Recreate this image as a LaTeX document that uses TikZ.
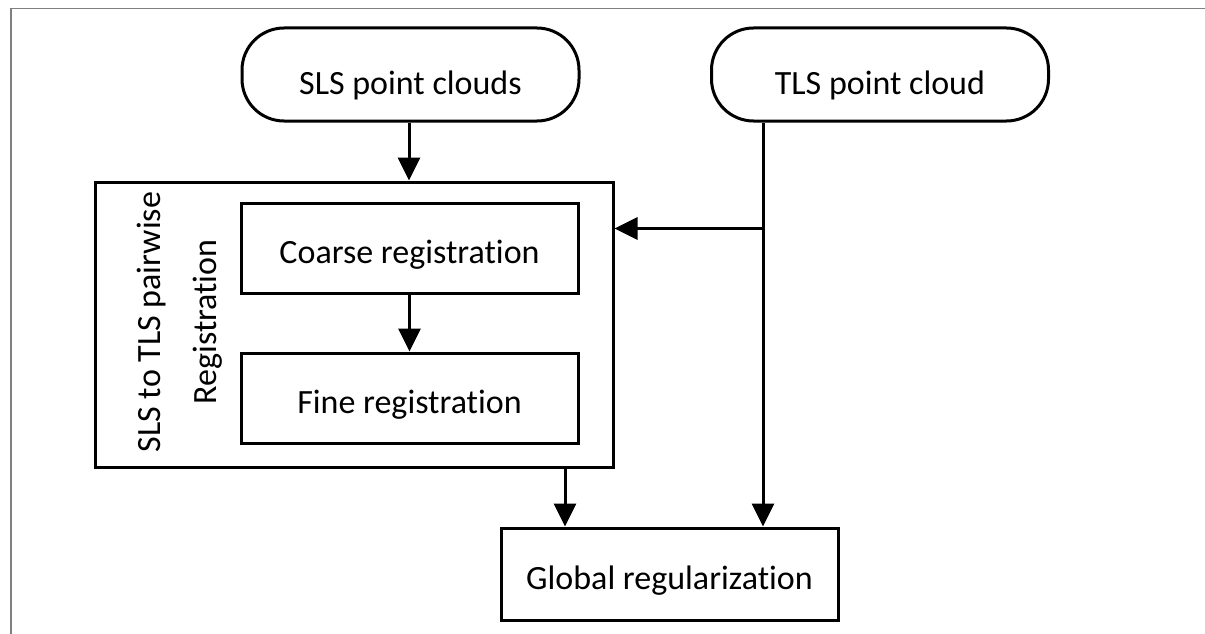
\documentclass[tikz,border=0pt]{standalone}
\usepackage{fontspec}
\setmainfont[Ligatures=NoCommon]{Carlito}
\usetikzlibrary{arrows.meta}
\begin{document}
\begin{tikzpicture}[x=1pt,y=-1pt,
  every node/.style={font=\fontsize{34}{56}\selectfont, inner sep=0pt},
  pill/.style={draw, line width=3pt, rounded corners=42pt, minimum width=337pt, minimum height=93pt, text height=39pt, text depth=0pt},
  box/.style={draw, line width=3pt, minimum width=337pt, minimum height=90pt, text height=30pt, text depth=0pt},
  arr/.style={line width=3pt, -{Triangle[length=23pt,width=22pt]}},
  frame/.style={draw=black!50, line width=1.5pt}]
\useasboundingbox (0,0) rectangle (1205,634);
% outer cropped frame
\coordinate (ftl) at (11,8.5);
\coordinate (ftr) at (1205,8.5);
\coordinate (fbl) at (11,634);
\draw[frame] (fbl) -- (ftl) -- (ftr);
% nodes
\node[pill] (sls) at (410.5,74.5) {SLS point clouds};
\node[pill] (tls) at (880,74.5) {TLS point cloud};
\node[draw, line width=3pt, minimum width=518pt, minimum height=285pt] (outer) at (354,324.5) {};
\node[box] (coarse) at (409.5,248) {Coarse registration};
\node[box] (fine) at (409.5,398) {Fine registration};
\node[box, minimum height=92pt] (global) at (669.5,574) {Global regularization};
\node[rotate=90, align=center] (lbl) at (180,322) {SLS to TLS pairwise\\Registration};
% connectors
\coordinate (slsout) at ([xshift=-1.5pt]sls.south);
\draw[arr] (slsout) -- (slsout |- outer.north);
\draw[arr] (coarse.south) -- (fine.north);
\coordinate (tlsout) at ([xshift=-117pt]tls.south);
\draw[arr] (tlsout) -- (tlsout |- global.north);
\coordinate (br) at ([yshift=-106pt]tlsout);
\draw[arr] (br) -- (br -| outer.east);
\coordinate (ob) at ([xshift=211pt]outer.south);
\draw[arr] (ob) -- (ob |- global.north);
\end{tikzpicture}
\end{document}
